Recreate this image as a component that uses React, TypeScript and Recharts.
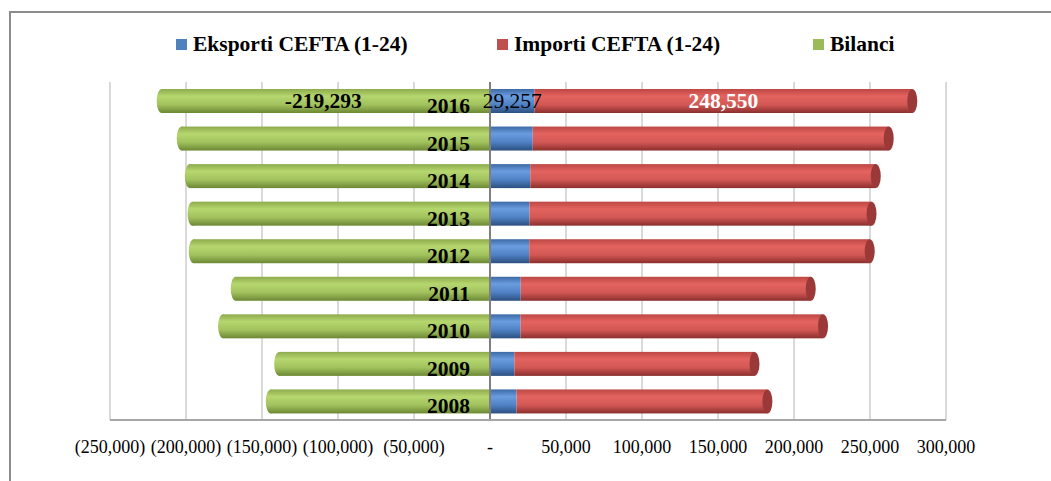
import React from 'react';
import {
  BarChart,
  Bar,
  XAxis,
  YAxis,
  CartesianGrid,
  ReferenceLine,
  LabelList,
} from 'recharts';

const years = ['2016', '2015', '2014', '2013', '2012', '2011', '2010', '2009', '2008'];
const eksporti = [29257, 28100, 26500, 26000, 25800, 20200, 20100, 16000, 17500];
const importi = [248550, 234200, 227300, 225000, 224000, 190800, 199000, 158000, 165000];
const bilanci = [-219293, -206100, -200800, -199000, -198200, -170600, -178900, -142000, -147500];
const xTicks = [-250000, -200000, -150000, -100000, -50000, 0, 50000, 100000, 150000, 200000, 250000, 300000];

const seriesNames = ['Eksporti CEFTA (1-24)', 'Importi CEFTA (1-24)', 'Bilanci'];
const seriesColors = ['#4F81BD', '#C0504D', '#9BBB59'];
const legendLeft = [176, 497, 813];

const data = years.map((year, i) => ({
  year,
  eksporti: eksporti[i],
  importi: importi[i],
  bilanci: bilanci[i],
}));

const FONT = '"Liberation Serif", "Times New Roman", serif';

const fmtTick = (v: number) => {
  if (v === 0) return '-';
  const s = Math.abs(v).toLocaleString('en-US');
  return v < 0 ? `(${s})` : s;
};

const fmtNum = (v: number) => v.toLocaleString('en-US');

const LegendBox = () => (
  <>
    {seriesNames.map((name, i) => (
      <div
        key={name}
        style={{
          position: 'absolute',
          left: legendLeft[i],
          top: 31,
          display: 'flex',
          alignItems: 'center',
          fontFamily: FONT,
          fontWeight: 'bold',
          fontSize: 21.5,
          color: '#000',
          lineHeight: '26px',
          whiteSpace: 'nowrap',
        }}
      >
        <span style={{ width: 11, height: 11, background: seriesColors[i], marginRight: 6, display: 'inline-block' }} />
        <span>{name}</span>
      </div>
    ))}
  </>
);

// cylinder-ish bar: body plus an elliptical cap on the outer end
const makeCylinder = (capSide: 'left' | 'right' | 'none', capFill?: string) => (props: any) => {
  const { x, y, width, height, fill } = props;
  if (width == null || height == null) return null;
  const left = Math.min(x, x + width);
  const w = Math.abs(width);
  const rx = 5;
  const ry = height / 2;
  const cy = y + ry;
  if (capSide === 'left') {
    return (
      <g>
        <rect x={left + rx} y={y} width={Math.max(w - rx, 0)} height={height} fill={fill} />
        <ellipse cx={left + rx} cy={cy} rx={rx} ry={ry} fill={fill} />
      </g>
    );
  }
  return (
    <g>
      <rect x={left} y={y} width={w} height={height} fill={fill} />
      {capSide === 'right' && <ellipse cx={left + w} cy={cy} rx={rx} ry={ry} fill={capFill || fill} />}
    </g>
  );
};

// year labels sit just left of the zero line
const YearLabel = (props: any) => {
  const { x, y, width, height, value } = props;
  const zeroX = Math.max(x, x + width);
  return (
    <text
      x={zeroX - 20}
      y={y + height / 2 + 12}
      textAnchor="end"
      fontFamily={FONT}
      fontWeight="bold"
      fontSize={21.5}
      fill="#000"
    >
      {value}
    </text>
  );
};

const makeValueLabel = (color: string, bold: boolean) => (props: any) => {
  const { x, y, width, height, value, index } = props;
  if (index !== 0) return null;
  return (
    <text
      x={x + width / 2}
      y={y + height / 2 + 7}
      textAnchor="middle"
      fontFamily={FONT}
      fontWeight={bold ? 'bold' : 'normal'}
      fontSize={21.5}
      fill={color}
    >
      {fmtNum(value)}
    </text>
  );
};

export default function App() {
  return (
    <div
      style={{
        position: 'absolute',
        left: 0,
        top: 0,
        width: 1051,
        height: 481,
        background: '#fff',
        overflow: 'hidden',
      }}
    >
      <div
        style={{
          position: 'absolute',
          left: 9,
          top: 11,
          width: 1100,
          height: 520,
          borderTop: '2px solid #8c8c8c',
          borderLeft: '2px solid #8c8c8c',
        }}
      />
      <LegendBox />
      <BarChart
        width={1051}
        height={481}
        data={data}
        layout="vertical"
        stackOffset="sign"
        barSize={24}
        margin={{ top: 82, right: 105, bottom: 31, left: 110 }}
      >
        <defs>
          <linearGradient id="gBlue" x1="0" y1="0" x2="0" y2="1">
            <stop offset="0%" stopColor="#3d6aa5" />
            <stop offset="30%" stopColor="#6a9ce0" />
            <stop offset="65%" stopColor="#4f81c4" />
            <stop offset="100%" stopColor="#2c4f80" />
          </linearGradient>
          <linearGradient id="gRed" x1="0" y1="0" x2="0" y2="1">
            <stop offset="0%" stopColor="#bd4744" />
            <stop offset="30%" stopColor="#e3635f" />
            <stop offset="65%" stopColor="#d35855" />
            <stop offset="100%" stopColor="#8a2f2d" />
          </linearGradient>
          <linearGradient id="gGreen" x1="0" y1="0" x2="0" y2="1">
            <stop offset="0%" stopColor="#8dab4c" />
            <stop offset="30%" stopColor="#b6d66f" />
            <stop offset="65%" stopColor="#a2c25e" />
            <stop offset="100%" stopColor="#6c8834" />
          </linearGradient>
        </defs>
        <CartesianGrid horizontal={false} stroke="#d9d9d9" strokeWidth={2} />
        <XAxis
          type="number"
          domain={[-250000, 300000]}
          ticks={xTicks}
          tickFormatter={fmtTick}
          interval={0}
          tickLine={false}
          tickMargin={14}
          axisLine={{ stroke: '#a6a6a6', strokeWidth: 2 }}
          tick={{ fill: '#000', fontSize: 18, fontFamily: FONT }}
          height={30}
        />
        <YAxis type="category" dataKey="year" hide />
        <Bar
          dataKey="bilanci"
          name={seriesNames[2]}
          stackId="a"
          fill="url(#gGreen)"
          shape={makeCylinder('left')}
          isAnimationActive={false}
        >
          <LabelList dataKey="year" content={YearLabel} />
          <LabelList dataKey="bilanci" content={makeValueLabel('#000', true)} />
        </Bar>
        <Bar
          dataKey="eksporti"
          name={seriesNames[0]}
          stackId="a"
          fill="url(#gBlue)"
          shape={makeCylinder('none')}
          isAnimationActive={false}
        >
          <LabelList dataKey="eksporti" content={makeValueLabel('#000', false)} />
        </Bar>
        <Bar
          dataKey="importi"
          name={seriesNames[1]}
          stackId="a"
          fill="url(#gRed)"
          shape={makeCylinder('right', '#9a3937')}
          isAnimationActive={false}
        >
          <LabelList dataKey="importi" content={makeValueLabel('#fff', true)} />
        </Bar>
        <ReferenceLine x={0} stroke="#7f7f7f" strokeWidth={2} />
      </BarChart>
    </div>
  );
}
